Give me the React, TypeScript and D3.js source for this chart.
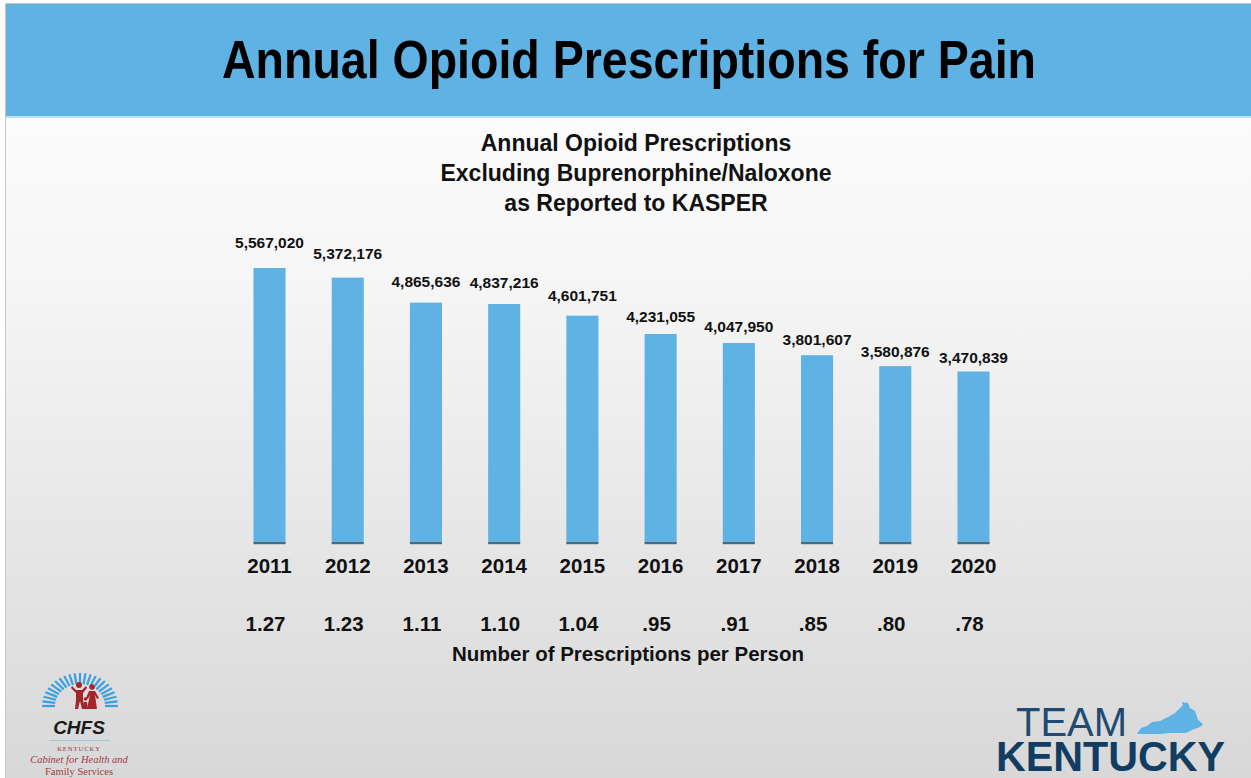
import React from "react";
import * as d3 from "d3";

const years = ["2011", "2012", "2013", "2014", "2015", "2016", "2017", "2018", "2019", "2020"];
const prescriptions = [5567020, 5372176, 4865636, 4837216, 4601751, 4231055, 4047950, 3801607, 3580876, 3470839];
const perPerson = ["1.27", "1.23", "1.11", "1.10", "1.04", ".95", ".91", ".85", ".80", ".78"];
const titleText = "Annual Opioid Prescriptions for Pain";
const subtitleLines = ["Annual Opioid Prescriptions", "Excluding Buprenorphine/Naloxone", "as Reported to KASPER"];
const perPersonLabel = "Number of Prescriptions per Person";

const W = 1251;
const H = 778;
const FONT = "'Liberation Sans', Arial, Helvetica, sans-serif";
const BLUE = "#5eb2e4";

function ChfsLogo() {
  const cx = 80, cy = 706;
  const rays = d3.range(23).map((i) => Math.PI + (i / 22) * Math.PI);
  return (
    <g>
      {rays.map((a, i) => (
        <line
          key={i}
          x1={cx + Math.cos(a) * 25}
          y1={cy + Math.sin(a) * 22}
          x2={cx + Math.cos(a) * 38}
          y2={cy + Math.sin(a) * 33}
          stroke="#3aa0e0"
          strokeWidth={2.2}
        />
      ))}
      <g fill="#a3262a">
        <circle cx={79} cy={685} r={3} />
        <path d="M72 686 L76 690 L82 690 L86 686 L87 688 L83 693 L83 700 L85 709 L82 709 L80 701 L78 709 L75 709 L76 700 L76 693 L71 688 Z" />
        <circle cx={92} cy={687} r={2.8} />
        <path d="M89 691 L95 691 L99 698 L97 699 L95 695 L97 709 L87 709 L90 695 L88 699 L86 698 Z" />
        <circle cx={85.5} cy={699} r={1.8} />
        <path d="M84 702 L87 702 L88 709 L83 709 Z" />
      </g>
      <text x={79} y={734} textAnchor="middle" fontFamily={FONT} fontWeight="bold" fontStyle="italic" fontSize={19} fill="#1a1a1a">CHFS</text>
      <line x1={49} x2={110} y1={740.5} y2={740.5} stroke="#9cc8e6" strokeWidth={1} />
      <text x={79} y={751} textAnchor="middle" fontFamily="'Liberation Serif', serif" fontSize={6.5} letterSpacing={1} fill="#8a3a3a">KENTUCKY</text>
      <text x={79} y={763} textAnchor="middle" fontFamily="'Liberation Serif', serif" fontStyle="italic" fontSize={10.5} fill="#a33a3a">Cabinet for Health and</text>
      <text x={79} y={775} textAnchor="middle" fontFamily="'Liberation Serif', serif" fontSize={10.5} fill="#a33a3a">Family Services</text>
    </g>
  );
}

function TeamKentucky() {
  return (
    <g>
      <text x={1016} y={736} fontFamily={FONT} fontSize={40} fill="#1f4b73" textLength={111} lengthAdjust="spacingAndGlyphs">TEAM</text>
      <path
        d="M1137 734 L1141 728 L1147 726 L1152 722 L1160 721 L1168 717 L1175 713 L1180 708 L1183 705 L1182 702 L1188 703 L1190 708 L1195 711 L1198 720 L1203 724 L1200 727 L1192 730 L1186 733 L1170 733 L1160 734 Z"
        fill="#5eb2e4"
      />
      <text x={996} y={771} fontFamily={FONT} fontWeight="bold" fontSize={43} fill="#123d63" textLength={229} lengthAdjust="spacingAndGlyphs">KENTUCKY</text>
    </g>
  );
}

export default function App() {
  const x = d3.scaleBand<string>().domain(years).range([230.4, 1012.6]).paddingInner(0.59).paddingOuter(0.295);
  const y = d3.scaleLinear().domain([0, 6000000]).range([543, 246.6]);
  const labelGap = d3.scaleLinear().domain([171, 275]).range([8, 20]);
  const fmt = d3.format(",");
  const bw = x.bandwidth();

  return (
    <svg width={W} height={H} style={{ position: "absolute", left: 0, top: 0, background: "#ffffff" }}>
      <defs>
        <linearGradient id="bg" x1="0" y1="0" x2="0" y2="1">
          <stop offset="0" stopColor="#ffffff" />
          <stop offset="0.35" stopColor="#f6f6f6" />
          <stop offset="1" stopColor="#d8d8d8" />
        </linearGradient>
      </defs>
      <rect x={0} y={0} width={W} height={H} fill="#ffffff" />
      <rect x={5.5} y={3.5} width={W - 5} height={H - 3} fill="url(#bg)" stroke="#c8c8c8" strokeWidth={1} />
      <rect x={6} y={4} width={W - 6} height={112} fill={BLUE} />
      <rect x={6} y={116} width={W - 6} height={2} fill="#bfe0f4" />
      <text x={629} y={78} textAnchor="middle" fontFamily={FONT} fontWeight="bold" fontSize={53} fill="#000" textLength={814} lengthAdjust="spacingAndGlyphs">
        {titleText}
      </text>

      {subtitleLines.map((t, i) => (
        <text key={t} x={636} y={151 + i * 30} textAnchor="middle" fontFamily={FONT} fontWeight="bold" fontSize={23} fill="#111">
          {t}
        </text>
      ))}

      {years.map((yr, i) => {
        const x0 = x(yr) as number;
        const top = y(prescriptions[i]);
        const cx = x0 + bw / 2;
        const gap = labelGap(y(0) - top);
        return (
          <g key={yr}>
            <rect x={x0} y={top} width={bw} height={y(0) - top} fill={BLUE} />
            <rect x={x0} y={y(0) - 1} width={bw} height={2.2} fill="#52697a" />
            <text x={cx} y={top - gap} textAnchor="middle" fontFamily={FONT} fontWeight="bold" fontSize={15.5} fill="#111">
              {fmt(prescriptions[i])}
            </text>
            <text x={cx} y={573} textAnchor="middle" fontFamily={FONT} fontWeight="bold" fontSize={20.5} fill="#111">
              {yr}
            </text>
            <text x={cx - 4} y={631} textAnchor="middle" fontFamily={FONT} fontWeight="bold" fontSize={20.5} fill="#111">
              {perPerson[i]}
            </text>
          </g>
        );
      })}

      <text x={628} y={661} textAnchor="middle" fontFamily={FONT} fontWeight="bold" fontSize={20.5} fill="#111">
        {perPersonLabel}
      </text>

      <ChfsLogo />
      <TeamKentucky />
    </svg>
  );
}
